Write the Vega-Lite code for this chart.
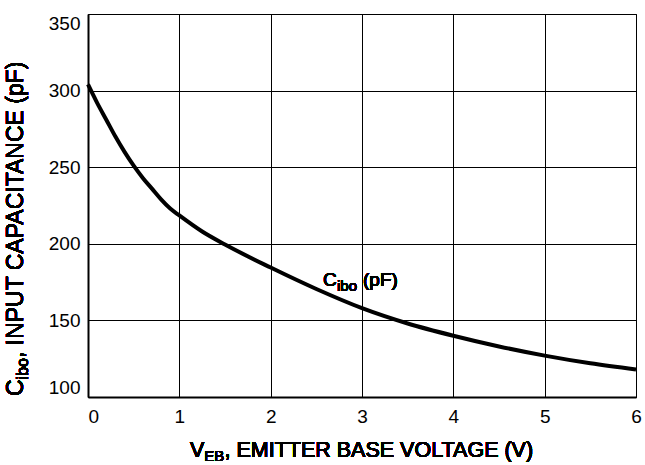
{
  "$schema": "https://vega.github.io/schema/vega-lite/v6.json",
  "width": 548,
  "height": 383,
  "autosize": {"type": "none"},
  "padding": {"left": 88, "top": 14, "right": 9, "bottom": 68},
  "background": "white",
  "config": {
    "font": "Liberation Sans",
    "view": {"stroke": "black", "strokeWidth": 1},
    "text": {"fontWeight": "normal", "color": "black", "font": "Liberation Sans"},
    "axis": {
      "domainColor": "black",
      "domainWidth": 2,
      "gridColor": "black",
      "gridWidth": 1,
      "gridOpacity": 1,
      "ticks": false,
      "labelColor": "black",
      "labelFont": "Liberation Sans",
      "labelFontWeight": "normal",
      "labelFontSize": 19,
      "title": null
    }
  },
  "datasets": {
    "curve": [
      {"v": 0.0, "c": 304},
      {"v": 0.1, "c": 292},
      {"v": 0.2, "c": 281},
      {"v": 0.3, "c": 270},
      {"v": 0.4, "c": 260},
      {"v": 0.5, "c": 251},
      {"v": 0.6, "c": 243},
      {"v": 0.7, "c": 236},
      {"v": 0.8, "c": 229},
      {"v": 0.9, "c": 223},
      {"v": 1.0, "c": 218.5},
      {"v": 1.25, "c": 208},
      {"v": 1.5, "c": 199.5},
      {"v": 2.0, "c": 184.5},
      {"v": 2.5, "c": 170.5},
      {"v": 3.0, "c": 158},
      {"v": 3.5, "c": 148},
      {"v": 4.0, "c": 140},
      {"v": 4.5, "c": 133},
      {"v": 5.0, "c": 127},
      {"v": 5.5, "c": 122},
      {"v": 6.0, "c": 118}
    ]
  },
  "data": {"name": "curve"},
  "layer": [
    {
      "mark": {"type": "line", "color": "black", "strokeWidth": 4, "interpolate": "monotone", "clip": false},
      "encoding": {
        "x": {
          "field": "v", "type": "quantitative",
          "scale": {"domain": [0, 6], "nice": false, "zero": false},
          "axis": {
            "values": [0, 1, 2, 3, 4, 5, 6],
            "format": "d",
            "labelPadding": 10,
            "labelAlign": {"expr": "datum.value === 0 ? 'left' : 'center'"}
          }
        },
        "y": {
          "field": "c", "type": "quantitative",
          "scale": {"domain": [100, 350], "nice": false, "zero": false},
          "axis": {
            "values": [100, 150, 200, 250, 300, 350],
            "labelPadding": 8,
            "labelFlush": true
          }
        }
      }
    },
    {
      "mark": {"type": "text", "text": "C", "fontSize": 19, "align": "left", "baseline": "alphabetic", "clip": false},
      "encoding": {"x": {"datum": 2.573}, "y": {"datum": 172.45}}
    },
    {
      "mark": {"type": "text", "text": "ibo", "fontSize": 15, "align": "left", "baseline": "alphabetic", "dx": 14, "dy": 5, "clip": false},
      "encoding": {"x": {"datum": 2.573}, "y": {"datum": 172.45}}
    },
    {
      "mark": {"type": "text", "text": "(pF)", "fontSize": 19, "align": "left", "baseline": "alphabetic", "dx": 40, "clip": false},
      "encoding": {"x": {"datum": 2.573}, "y": {"datum": 172.45}}
    },
    {
      "mark": {"type": "text", "text": "V", "fontSize": 21.5, "align": "left", "baseline": "alphabetic", "clip": false},
      "encoding": {"x": {"datum": 1.1168}, "y": {"datum": 60.8}}
    },
    {
      "mark": {"type": "text", "text": "EB", "fontSize": 15, "align": "left", "baseline": "alphabetic", "dx": 14.3, "dy": 4, "clip": false},
      "encoding": {"x": {"datum": 1.1168}, "y": {"datum": 60.8}}
    },
    {
      "mark": {"type": "text", "text": ", EMITTER BASE VOLTAGE (V)", "fontSize": 21.5, "align": "left", "baseline": "alphabetic", "dx": 34.5, "clip": false},
      "encoding": {"x": {"datum": 1.1168}, "y": {"datum": 60.8}}
    },
    {
      "mark": {"type": "text", "text": "C", "fontSize": 23, "angle": 270, "align": "left", "baseline": "alphabetic", "clip": false},
      "encoding": {"x": {"datum": -0.7117}, "y": {"datum": 100.65}}
    },
    {
      "mark": {"type": "text", "text": "ibo", "fontSize": 16, "angle": 270, "align": "left", "baseline": "alphabetic", "dx": 16.6, "dy": 5, "clip": false},
      "encoding": {"x": {"datum": -0.7117}, "y": {"datum": 100.65}}
    },
    {
      "mark": {"type": "text", "text": ", INPUT CAPACITANCE (pF)", "fontSize": 23, "angle": 270, "align": "left", "baseline": "alphabetic", "dx": 38, "clip": false},
      "encoding": {"x": {"datum": -0.7117}, "y": {"datum": 100.65}}
    }
  ]
}
